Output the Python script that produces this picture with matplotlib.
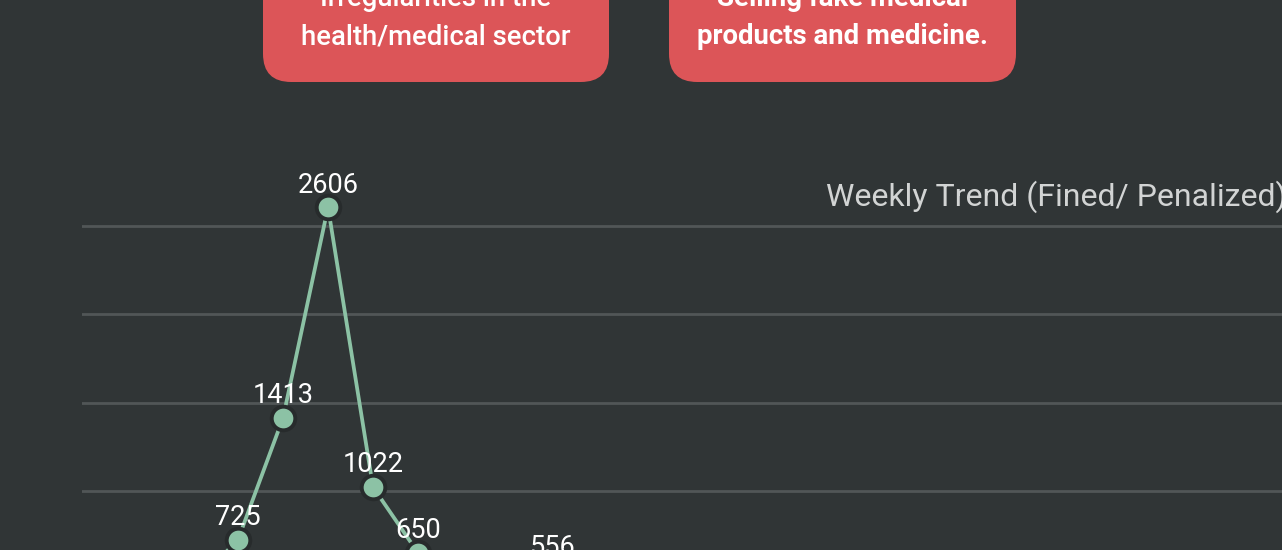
import matplotlib.pyplot as plt
from matplotlib.patches import FancyBboxPatch

plt.rcParams['font.family'] = ['Roboto', 'DejaVu Sans']

# weekly count of fined / penalized cases (only part of the series is in view)
weeks = [0, 1, 2, 3, 4, 5, 6, 7, 8]
fined = [460, 725, 1413, 2606, 1022, 650, 420, 380, 556]

grid_values = [1000, 1500, 2000, 2500]

box_texts = [
    ["Irregularities in the", "health/medical sector"],
    ["Selling fake medical", "products and medicine."],
]

bg = '#303536'
green = '#8cc2a5'
red = '#dc5558'

W, H = 1282, 550
fig = plt.figure(figsize=(W / 100, H / 100), dpi=100)
fig.patch.set_facecolor(bg)

ax = fig.add_axes([82 / W, 0, 1200 / W, 1])
ax.set_facecolor(bg)
ax.set_xlim(-2.467, -2.467 + 1200 / 45)
ax.set_ylim(666, 3779)

ax.set_yticks(grid_values)
ax.grid(axis='y', color='#515657', linewidth=2)
ax.set_axisbelow(True)
ax.tick_params(left=False, bottom=False, labelleft=False, labelbottom=False)
for s in ax.spines.values():
    s.set_visible(False)

ax.plot(weeks, fined, color=green, linewidth=2.7, zorder=3,
        marker='o', markersize=17, markerfacecolor=green,
        markeredgecolor='#272b2c', markeredgewidth=2.8)

for x, y in zip(weeks, fined):
    ax.annotate(str(y), (x, y), xytext=(0, 16), textcoords='offset points',
                ha='center', va='center', color='white', fontsize=19.5,
                zorder=4, annotation_clip=False)

ax.text(826 / W, (H - 197) / H, "Weekly Trend (Fined/ Penalized)",
        transform=fig.transFigure, ha='left', va='center',
        color='#d2d4d4', fontsize=23)

# red info boxes at the top
boxes = [(263, 609), (669, 1016)]
for (x0, x1), lines, weight in zip(boxes, box_texts, ['medium', 'bold']):
    patch = FancyBboxPatch((x0 / W, (H - 82) / H), (x1 - x0) / W, 200 / H,
                           boxstyle='round,pad=0,rounding_size=0.022',
                           transform=fig.transFigure, facecolor=red,
                           edgecolor='none', mutation_aspect=W / H)
    fig.patches.append(patch)
    cx = (x0 + x1) / 2 / W
    for ty, t in zip([-2, 37], lines):
        fig.text(cx, (H - ty) / H, t, ha='center', va='center',
                 color='white', fontsize=19.8, fontweight=weight)

fig.savefig('out.png', dpi=100, facecolor=bg)
